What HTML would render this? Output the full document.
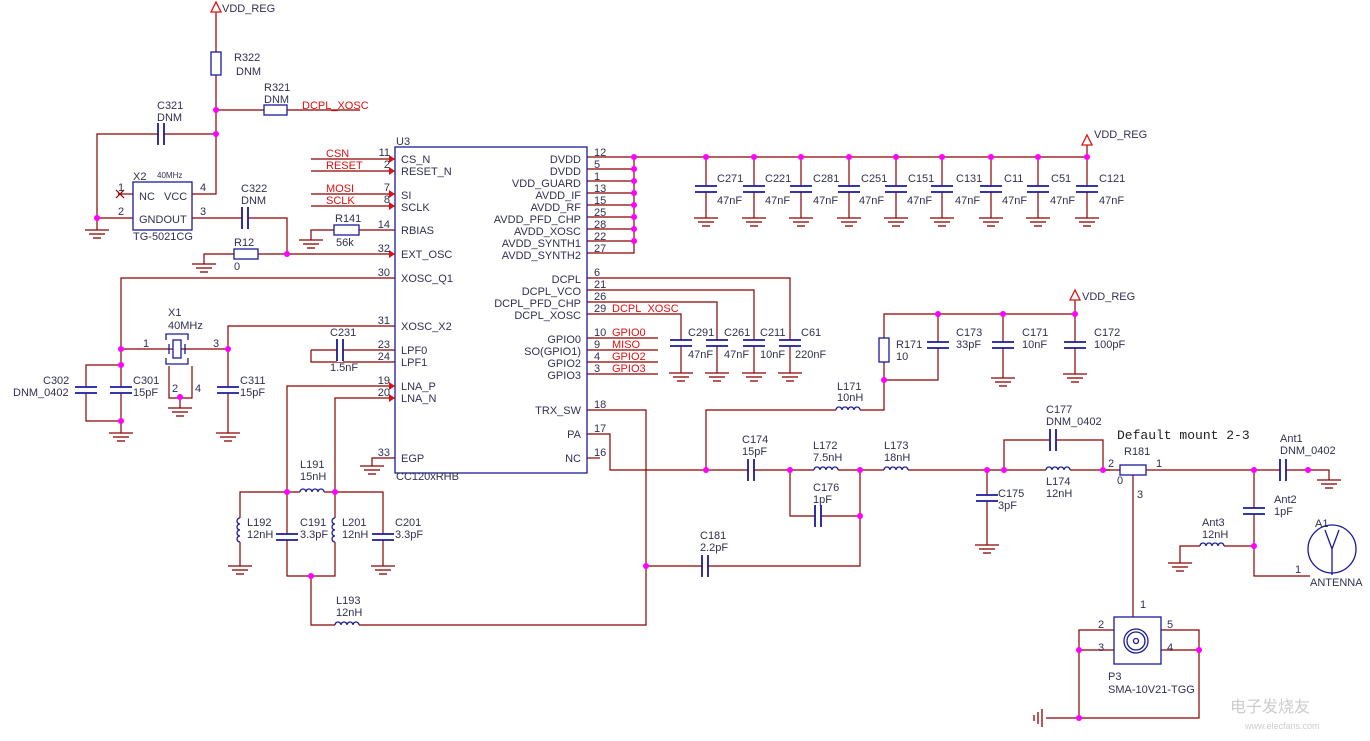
<!DOCTYPE html>
<html><head><meta charset="utf-8"><style>
html,body{margin:0;padding:0;background:#fff;}
svg{display:block;}
text{font-family:"Liberation Sans",sans-serif;font-size:11px;fill:#303050;}
.r{fill:#e01010;}
.m{font-family:"Liberation Mono",monospace;font-size:13px;fill:#222;}
</style></head><body>
<svg width="1370" height="741" viewBox="0 0 1370 741" xmlns="http://www.w3.org/2000/svg">
<defs>
<g id="g" stroke="#8b0000" stroke-width="1.3"><line x1="-12" y1="0" x2="12" y2="0"/><line x1="-8" y1="4" x2="8" y2="4"/><line x1="-4" y1="8" x2="4" y2="8"/></g>
<g id="cv"><rect x="-12" y="-3" width="24" height="6" fill="#fff"/><g stroke="#1a1a9a" stroke-width="1.8"><line x1="-11" y1="-3" x2="11" y2="-3"/><line x1="-11" y1="3" x2="11" y2="3"/></g></g>
<g id="ch"><rect x="-3" y="-12" width="6" height="24" fill="#fff"/><g stroke="#1a1a9a" stroke-width="1.8"><line x1="-3" y1="-11" x2="-3" y2="11"/><line x1="3" y1="-11" x2="3" y2="11"/></g></g>
<g id="lh"><rect x="-12" y="-2" width="24" height="4" fill="#fff"/><path d="M-12,0 a3,3 0 0 1 6,0 a3,3 0 0 1 6,0 a3,3 0 0 1 6,0 a3,3 0 0 1 6,0" fill="none" stroke="#1a1a9a" stroke-width="1.3"/></g>
<g id="lv"><rect x="-2" y="-12" width="4" height="24" fill="#fff"/><path d="M0,-12 a3,3 0 0 0 0,6 a3,3 0 0 0 0,6 a3,3 0 0 0 0,6 a3,3 0 0 0 0,6" fill="none" stroke="#1a1a9a" stroke-width="1.3"/></g>
<path id="a" d="M-6,-4 L0,0 L-6,4 Z" fill="#e01010"/>
<circle id="j" r="3" fill="#ff00ff"/>
<path id="v" d="M0,0 L-5,10 L5,10 Z" fill="none" stroke="#e01010" stroke-width="1.3"/>
</defs>

<g stroke="#8b0000" stroke-width="1.2" fill="none">
<polyline points="216,12 216,194 192,194"/>
<polyline points="216,110 360,110"/>
<polyline points="216,134 97,134 97,230"/>
<polyline points="97,218 133,218"/>
<polyline points="118,194 133,194"/>
<polyline points="192,218 287,218 287,254"/>
<polyline points="204,264 204,254 395,254"/>
<polyline points="311,159 395,159"/><polyline points="311,171 395,171"/>
<polyline points="311,194 395,194"/><polyline points="311,206 395,206"/>
<polyline points="311,240 311,230 395,230"/>
<polyline points="121,349 121,278 395,278"/>
<polyline points="121,349 121,433"/>
<polyline points="121,365 86,365 86,421 121,421"/>
<polyline points="121,349 228,349"/>
<polyline points="228,433 228,326 395,326"/>
<polyline points="169,366 169,398 192,398 192,366"/>
<polyline points="180,398 180,408"/>
<polyline points="311,350 395,350"/><polyline points="311,350 311,362 395,362"/>
<polyline points="287,492 287,386 395,386"/>
<polyline points="335,492 335,398 395,398"/>
<polyline points="240,566 240,492 383,492 383,566"/>
<polyline points="287,492 287,576 335,576 335,492"/>
<polyline points="311,576 311,625 646,625 646,410 587,410"/>
<polyline points="372,466 372,458 395,458"/>
<polyline points="587,157 1087,157"/>
<polyline points="587,169 634,169"/><polyline points="587,181 634,181"/><polyline points="587,193 634,193"/>
<polyline points="587,205 634,205"/><polyline points="587,217 634,217"/><polyline points="587,229 634,229"/>
<polyline points="587,241 634,241"/><polyline points="587,253 634,253 634,157"/>
<polyline points="1087,145 1087,157"/>
<polyline points="706,157 706,218"/><polyline points="754,157 754,218"/><polyline points="801,157 801,218"/>
<polyline points="849,157 849,218"/><polyline points="896,157 896,218"/><polyline points="942,157 942,218"/>
<polyline points="991,157 991,218"/><polyline points="1038,157 1038,218"/><polyline points="1087,157 1087,218"/>
<polyline points="587,278 790,278 790,373"/>
<polyline points="587,290 754,290 754,373"/>
<polyline points="587,302 717,302 717,373"/>
<polyline points="587,314 681,314 681,373"/>
<polyline points="587,338 658,338"/><polyline points="587,350 658,350"/>
<polyline points="587,362 658,362"/><polyline points="587,374 658,374"/>
<polyline points="587,434 610,434 610,470 1110,470"/>
<polyline points="587,458 600,458"/>
<polyline points="706,470 706,410 884,410 884,314 1075,314"/>
<polyline points="884,380 938,380 938,314"/>
<polyline points="1003,314 1003,378"/><polyline points="1075,300 1075,374"/>
<polyline points="790,470 790,516 860,516"/>
<polyline points="860,470 860,566 646,566"/>
<polyline points="987,470 987,545"/>
<polyline points="1004,470 1004,440 1103,440 1103,470 1120,470"/>
<polyline points="1146,470 1329,470 1329,480"/>
<polyline points="1133,475 1133,617"/>
<polyline points="1254,470 1254,576 1310,576"/>
<polyline points="1180,563 1180,546 1254,546"/>
<polyline points="1114,630 1079,630 1079,718 1199,718 1199,630 1161,630"/>
<polyline points="1114,650 1079,650"/><polyline points="1161,650 1199,650"/>
<polyline points="1046,718 1079,718"/>
<line x1="116" y1="190" x2="124" y2="198"/><line x1="124" y1="190" x2="116" y2="198"/>
</g>

<g fill="#fff" stroke="#1a1a9a" stroke-width="1.3">
<rect x="211" y="52" width="10" height="23"/>
<rect x="264" y="105" width="23" height="10"/>
<rect x="234" y="249" width="24" height="10"/>
<rect x="334" y="225" width="25" height="10"/>
<rect x="133" y="182" width="59" height="48"/>
<rect x="395" y="147" width="192" height="326" fill="none"/>
<rect x="879" y="338" width="10" height="24"/>
<rect x="1120" y="465" width="26" height="10"/>
<rect x="1114" y="617" width="47" height="47"/>
<circle cx="1136" cy="641" r="12"/><circle cx="1136" cy="641" r="9"/><circle cx="1136" cy="641" r="2.5"/>
<circle cx="1332" cy="549" r="24"/>
<path d="M1332,575 L1332,549 M1325,530 L1332,549 L1339,530" fill="none"/>
<rect x="173" y="340" width="8" height="18"/>
<path d="M169,354 L169,344 M185,354 L185,344 M166,340 V334 H188 V340 M166,358 V364 H188 V358" fill="none"/>
<line x1="1042" y1="709" x2="1042" y2="727" stroke="#8b0000"/><line x1="1038" y1="712" x2="1038" y2="724" stroke="#8b0000"/><line x1="1034" y1="715" x2="1034" y2="721" stroke="#8b0000"/>
</g>

<use href="#ch" x="161" y="134"/><use href="#ch" x="245" y="218"/>
<use href="#cv" x="86" y="390"/><use href="#cv" x="121" y="390"/><use href="#cv" x="228" y="390"/>
<use href="#ch" x="340" y="350"/>
<use href="#cv" x="287" y="537"/><use href="#cv" x="383" y="537"/>
<use href="#lh" x="312" y="492"/><use href="#lv" x="240" y="530"/><use href="#lv" x="335" y="530"/>
<use href="#lh" x="347" y="625"/>
<use href="#cv" x="706" y="189"/><use href="#cv" x="754" y="189"/><use href="#cv" x="801" y="189"/>
<use href="#cv" x="849" y="189"/><use href="#cv" x="896" y="189"/><use href="#cv" x="942" y="189"/>
<use href="#cv" x="991" y="189"/><use href="#cv" x="1038" y="189"/><use href="#cv" x="1087" y="189"/>
<use href="#cv" x="681" y="343"/><use href="#cv" x="717" y="343"/><use href="#cv" x="754" y="343"/><use href="#cv" x="790" y="343"/>
<use href="#cv" x="938" y="345"/><use href="#cv" x="1003" y="345"/><use href="#cv" x="1075" y="345"/>
<use href="#lh" x="848" y="410"/>
<use href="#ch" x="751" y="470"/><use href="#lh" x="826" y="470"/><use href="#lh" x="896" y="470"/>
<use href="#ch" x="818" y="516"/><use href="#ch" x="705" y="566"/>
<use href="#cv" x="987" y="498"/><use href="#ch" x="1053" y="440"/><use href="#lh" x="1058" y="470"/>
<use href="#ch" x="1283" y="470"/><use href="#cv" x="1254" y="511"/><use href="#lh" x="1212" y="546"/>

<use href="#g" x="97" y="230"/><use href="#g" x="204" y="264"/><use href="#g" x="311" y="240"/>
<use href="#g" x="121" y="433"/><use href="#g" x="180" y="408"/><use href="#g" x="228" y="433"/>
<use href="#g" x="240" y="566"/><use href="#g" x="383" y="566"/><use href="#g" x="372" y="466"/>
<use href="#g" x="706" y="218"/><use href="#g" x="754" y="218"/><use href="#g" x="801" y="218"/>
<use href="#g" x="849" y="218"/><use href="#g" x="896" y="218"/><use href="#g" x="942" y="218"/>
<use href="#g" x="991" y="218"/><use href="#g" x="1038" y="218"/><use href="#g" x="1087" y="218"/>
<use href="#g" x="681" y="373"/><use href="#g" x="717" y="373"/><use href="#g" x="754" y="373"/><use href="#g" x="790" y="373"/>
<use href="#g" x="1003" y="378"/><use href="#g" x="1075" y="374"/><use href="#g" x="987" y="545"/>
<use href="#g" x="1329" y="480"/><use href="#g" x="1180" y="563"/>

<use href="#v" x="216" y="2"/><use href="#v" x="1087" y="135"/><use href="#v" x="1075" y="290"/>

<use href="#a" x="395" y="159"/><use href="#a" x="395" y="171"/><use href="#a" x="395" y="194"/>
<use href="#a" x="395" y="206"/><use href="#a" x="395" y="254"/><use href="#a" x="395" y="386"/><use href="#a" x="395" y="398"/>

<use href="#j" x="216" y="110"/><use href="#j" x="216" y="134"/><use href="#j" x="97" y="218"/><use href="#j" x="287" y="254"/>
<use href="#j" x="121" y="349"/><use href="#j" x="121" y="365"/><use href="#j" x="121" y="421"/><use href="#j" x="228" y="349"/><use href="#j" x="180" y="397"/>
<use href="#j" x="287" y="492"/><use href="#j" x="335" y="492"/><use href="#j" x="311" y="576"/>
<use href="#j" x="634" y="157"/><use href="#j" x="634" y="169"/><use href="#j" x="634" y="181"/><use href="#j" x="634" y="193"/>
<use href="#j" x="634" y="205"/><use href="#j" x="634" y="217"/><use href="#j" x="634" y="229"/><use href="#j" x="634" y="241"/>
<use href="#j" x="706" y="157"/><use href="#j" x="754" y="157"/><use href="#j" x="801" y="157"/><use href="#j" x="849" y="157"/>
<use href="#j" x="896" y="157"/><use href="#j" x="942" y="157"/><use href="#j" x="991" y="157"/><use href="#j" x="1038" y="157"/><use href="#j" x="1087" y="157"/>
<use href="#j" x="938" y="314"/><use href="#j" x="1003" y="314"/><use href="#j" x="1075" y="314"/><use href="#j" x="884" y="380"/>
<use href="#j" x="706" y="470"/><use href="#j" x="790" y="470"/><use href="#j" x="860" y="470"/><use href="#j" x="860" y="516"/>
<use href="#j" x="646" y="566"/><use href="#j" x="987" y="470"/><use href="#j" x="1004" y="470"/><use href="#j" x="1103" y="470"/>
<use href="#j" x="1254" y="470"/><use href="#j" x="1308" y="470"/><use href="#j" x="1254" y="546"/>
<use href="#j" x="1079" y="650"/><use href="#j" x="1199" y="650"/><use href="#j" x="1079" y="718"/>

<text x="222" y="12">VDD_REG</text>
<text x="234" y="61">R322</text><text x="236" y="75">DNM</text>
<text x="264" y="91">R321</text><text x="264" y="103">DNM</text>
<text x="302" y="109" class="r">DCPL_XOSC</text>
<text x="157" y="109">C321</text><text x="157" y="121">DNM</text>
<text x="133" y="180">X2</text><text x="157" y="178" style="font-size:8px">40MHz</text>
<text x="139" y="200">NC</text><text x="164" y="200">VCC</text><text x="139" y="223">GNDOUT</text>
<text x="133" y="240">TG-5021CG</text>
<text x="118" y="191">1</text><text x="118" y="215">2</text><text x="200" y="191">4</text><text x="200" y="215">3</text>
<text x="241" y="192">C322</text><text x="241" y="204">DNM</text>
<text x="234" y="246">R12</text><text x="234" y="270">0</text>
<text x="396" y="145">U3</text><text x="396" y="480">CC120xRHB</text>
<text x="326" y="157" class="r">CSN</text><text x="326" y="169" class="r">RESET</text>
<text x="326" y="192" class="r">MOSI</text><text x="326" y="204" class="r">SCLK</text>
<text x="335" y="222">R141</text><text x="336" y="246">56k</text>
<g text-anchor="end">
<text x="390" y="156">11</text><text x="390" y="168">2</text><text x="390" y="191">7</text><text x="390" y="203">8</text>
<text x="390" y="228">14</text><text x="390" y="252">32</text><text x="390" y="276">30</text><text x="390" y="324">31</text>
<text x="390" y="348">23</text><text x="390" y="360">24</text><text x="390" y="384">19</text><text x="390" y="396">20</text><text x="390" y="456">33</text>
<text x="581" y="163">DVDD</text><text x="581" y="175">DVDD</text><text x="581" y="187">VDD_GUARD</text><text x="581" y="199">AVDD_IF</text>
<text x="581" y="211">AVDD_RF</text><text x="581" y="223">AVDD_PFD_CHP</text><text x="581" y="235">AVDD_XOSC</text>
<text x="581" y="247">AVDD_SYNTH1</text><text x="581" y="259">AVDD_SYNTH2</text>
<text x="581" y="283">DCPL</text><text x="581" y="295">DCPL_VCO</text><text x="581" y="307">DCPL_PFD_CHP</text><text x="581" y="319">DCPL_XOSC</text>
<text x="581" y="343">GPIO0</text><text x="581" y="355">SO(GPIO1)</text><text x="581" y="367">GPIO2</text><text x="581" y="379">GPIO3</text>
<text x="581" y="414">TRX_SW</text><text x="581" y="438">PA</text><text x="581" y="462">NC</text>
</g>
<text x="401" y="163">CS_N</text><text x="401" y="175">RESET_N</text><text x="401" y="199">SI</text><text x="401" y="211">SCLK</text>
<text x="401" y="234">RBIAS</text><text x="401" y="258">EXT_OSC</text><text x="401" y="282">XOSC_Q1</text><text x="401" y="330">XOSC_X2</text>
<text x="401" y="354">LPF0</text><text x="401" y="366">LPF1</text><text x="401" y="390">LNA_P</text><text x="401" y="402">LNA_N</text><text x="401" y="462">EGP</text>
<text x="594" y="156">12</text><text x="594" y="168">5</text><text x="594" y="180">1</text><text x="594" y="192">13</text><text x="594" y="204">15</text>
<text x="594" y="216">25</text><text x="594" y="228">28</text><text x="594" y="240">22</text><text x="594" y="252">27</text>
<text x="594" y="276">6</text><text x="594" y="288">21</text><text x="594" y="300">26</text><text x="594" y="312">29</text>
<text x="594" y="336">10</text><text x="594" y="348">9</text><text x="594" y="360">4</text><text x="594" y="372">3</text>
<text x="594" y="408">18</text><text x="594" y="432">17</text><text x="594" y="456">16</text>
<text x="612" y="312" class="r">DCPL_XOSC</text>
<text x="612" y="336" class="r">GPIO0</text><text x="612" y="348" class="r">MISO</text><text x="612" y="360" class="r">GPIO2</text><text x="612" y="372" class="r">GPIO3</text>
<text x="1094" y="138">VDD_REG</text><text x="1082" y="300">VDD_REG</text>
<text x="717" y="182">C271</text><text x="717" y="204">47nF</text>
<text x="765" y="182">C221</text><text x="765" y="204">47nF</text>
<text x="813" y="182">C281</text><text x="813" y="204">47nF</text>
<text x="861" y="182">C251</text><text x="859" y="204">47nF</text>
<text x="908" y="182">C151</text><text x="907" y="204">47nF</text>
<text x="956" y="182">C131</text><text x="955" y="204">47nF</text>
<text x="1004" y="182">C11</text><text x="1002" y="204">47nF</text>
<text x="1051" y="182">C51</text><text x="1050" y="204">47nF</text>
<text x="1099" y="182">C121</text><text x="1099" y="204">47nF</text>
<text x="688" y="336">C291</text><text x="688" y="358">47nF</text>
<text x="724" y="336">C261</text><text x="724" y="358">47nF</text>
<text x="760" y="336">C211</text><text x="760" y="358">10nF</text>
<text x="801" y="336">C61</text><text x="795" y="358">220nF</text>
<text x="896" y="348">R171</text><text x="896" y="360">10</text>
<text x="956" y="336">C173</text><text x="956" y="348">33pF</text>
<text x="1022" y="336">C171</text><text x="1022" y="348">10nF</text>
<text x="1094" y="336">C172</text><text x="1094" y="348">100pF</text>
<text x="837" y="390">L171</text><text x="837" y="401">10nH</text>
<text x="742" y="443">C174</text><text x="742" y="455">15pF</text>
<text x="813" y="449">L172</text><text x="813" y="461">7.5nH</text>
<text x="884" y="449">L173</text><text x="884" y="461">18nH</text>
<text x="813" y="491">C176</text><text x="813" y="503">1pF</text>
<text x="700" y="539">C181</text><text x="700" y="551">2.2pF</text>
<text x="998" y="497">C175</text><text x="998" y="509">3pF</text>
<text x="1046" y="413">C177</text><text x="1046" y="425">DNM_0402</text>
<text x="1046" y="485">L174</text><text x="1046" y="497">12nH</text>
<text x="1117" y="439" class="m">Default mount 2-3</text>
<text x="1124" y="455">R181</text><text x="1108" y="467">2</text><text x="1156" y="467">1</text>
<text x="1117" y="484">0</text><text x="1137" y="498">3</text>
<text x="1280" y="442">Ant1</text><text x="1280" y="454">DNM_0402</text>
<text x="1274" y="503">Ant2</text><text x="1274" y="515">1pF</text>
<text x="1202" y="526">Ant3</text><text x="1202" y="538">12nH</text>
<text x="1315" y="527">A1</text><text x="1295" y="573">1</text><text x="1310" y="586">ANTENNA</text>
<text x="1140" y="608">1</text><text x="1098" y="628">2</text><text x="1098" y="651">3</text><text x="1167" y="628">5</text><text x="1167" y="651">4</text>
<text x="1108" y="680">P3</text><text x="1108" y="693">SMA-10V21-TGG</text>
<text x="168" y="316">X1</text><text x="168" y="329">40MHz</text>
<text x="143" y="347">1</text><text x="213" y="347">3</text><text x="172" y="392">2</text><text x="195" y="392">4</text>
<text x="43" y="384">C302</text><text x="13" y="396">DNM_0402</text>
<text x="133" y="384">C301</text><text x="133" y="396">15pF</text>
<text x="240" y="384">C311</text><text x="240" y="396">15pF</text>
<text x="330" y="336">C231</text><text x="330" y="371">1.5nF</text>
<text x="300" y="468">L191</text><text x="300" y="480">15nH</text>
<text x="247" y="526">L192</text><text x="247" y="538">12nH</text>
<text x="300" y="526">C191</text><text x="300" y="538">3.3pF</text>
<text x="342" y="526">L201</text><text x="342" y="538">12nH</text>
<text x="395" y="526">C201</text><text x="395" y="538">3.3pF</text>
<text x="336" y="604">L193</text><text x="336" y="616">12nH</text>
<text x="1230" y="712" style="fill:#ccc;font-size:16px">电子发烧友</text>
<text x="1245" y="729" style="fill:#ccc;font-size:9px">www.elecfans.com</text>
</svg>
</body></html>
